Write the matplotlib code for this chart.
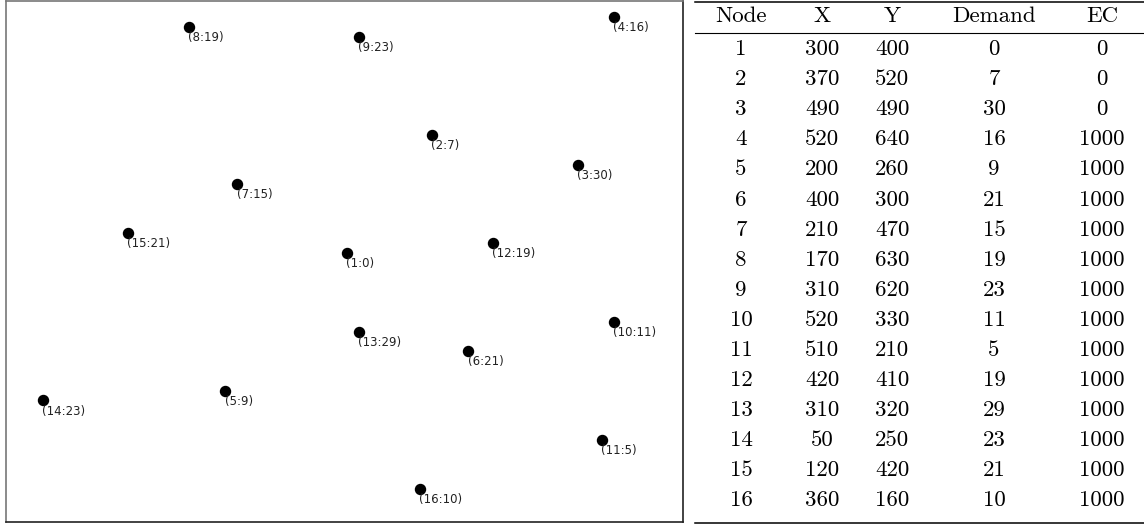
import matplotlib
matplotlib.use("Agg")
import matplotlib.pyplot as plt

# node data
node = [1, 2, 3, 4, 5, 6, 7, 8, 9, 10, 11, 12, 13, 14, 15, 16]
xs = [300, 370, 490, 520, 200, 400, 210, 170, 310, 520, 510, 420, 310, 50, 120, 360]
ys = [400, 520, 490, 640, 260, 300, 470, 630, 620, 330, 210, 410, 320, 250, 420, 160]
demand = [0, 7, 30, 16, 9, 21, 15, 19, 23, 11, 5, 19, 29, 23, 21, 10]
ec = [0, 0, 0, 1000, 1000, 1000, 1000, 1000, 1000, 1000, 1000, 1000, 1000, 1000, 1000, 1000]
headers = ["Node", "X", "Y", "Demand", "EC"]

W, H = 1144, 524
fig = plt.figure(figsize=(W / 100, H / 100), dpi=100)

# scatter panel
ax = fig.add_axes([6 / W, 2 / H, 677 / W, 521 / H])
ax.scatter(xs, ys, s=52, color="black", zorder=3)
for n, x, y, d in zip(node, xs, ys, demand):
    ax.annotate(f"({n}:{d})", (x, y), xytext=(-0.5, -7.6), textcoords="offset points",
                ha="left", va="center", fontsize=8.5, color="#222222")
ax.set_xlim(19.5, 576.8)
ax.set_ylim(126.4, 656.3)
ax.set_xticks([])
ax.set_yticks([])
for side in ["left", "top"]:
    ax.spines[side].set_color("#777777")
for side in ["right", "bottom"]:
    ax.spines[side].set_color("#222222")
for s in ax.spines.values():
    s.set_linewidth(1.2)

# table panel (pixel coordinates)
tx = fig.add_axes([0, 0, 1, 1])
tx.set_xlim(0, W)
tx.set_ylim(H, 0)
tx.axis("off")
tx.patch.set_alpha(0)

fs = 16.5
font = "cmr10"
col_x = [741, 822, 892, 994, 1102]
tx.axhline(1.8, xmin=695 / W, xmax=1, color="black", lw=1.1)
tx.axhline(32.5, xmin=695 / W, xmax=1, color="black", lw=0.8)
tx.axhline(522.8, xmin=695 / W, xmax=1, color="black", lw=1.1)
for hx, h in zip(col_x, headers):
    tx.text(hx, 22, h, ha="center", va="baseline", fontsize=fs, family=font)
for i in range(len(node)):
    base = 55 + 30.1 * i
    row = [node[i], xs[i], ys[i], demand[i], ec[i]]
    for cx, v in zip(col_x, row):
        tx.text(cx, base, str(v), ha="center", va="baseline", fontsize=fs, family=font)

fig.savefig("out.png", dpi=100)
